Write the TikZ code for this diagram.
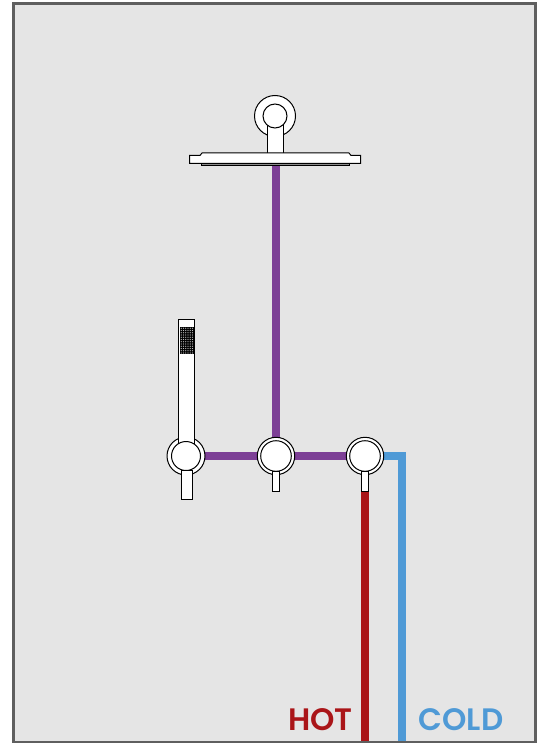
\documentclass[tikz,border=0pt]{standalone}
\usepackage{fontspec}
\setmainfont{Poppins}[BoldFont={Poppins SemiBold}]
\definecolor{wallgrey}{HTML}{E5E5E5}
\definecolor{framegrey}{HTML}{5F5F5F}
\definecolor{mixpurple}{HTML}{7D3F96}
\definecolor{hotred}{HTML}{AA1518}
\definecolor{coldblue}{HTML}{4F9AD6}
\tikzset{
  pipe/.style={line width=7.6pt},
  fitting/.style={draw=black, fill=white, line width=1pt},
  label/.style={font=\bfseries\fontsize{31}{31}\selectfont, inner sep=0pt, anchor=base},
}
\begin{document}
\begin{tikzpicture}[x=1pt, y=-1pt]
  \useasboundingbox (0,0) rectangle (544,743);
  \coordinate (Head) at (276,160);
  \coordinate (V1) at (186,456);
  \coordinate (V2) at (276,456);
  \coordinate (V3) at (365,456);
  \coordinate (Elbow) at (402,456);
  \coordinate (HotEnd) at (365,741);
  \coordinate (ColdEnd) at (402,741);

  \fill[wallgrey] (13,3) rectangle (535,742);

  % pipes
  \draw[pipe, mixpurple] (Head)--(V2);
  \draw[pipe, mixpurple] (V1)--(V3);
  \draw[pipe, hotred] (V3)--(HotEnd);
  \draw[pipe, coldblue, line join=miter] (V3)--(Elbow)--(ColdEnd);

  % overhead shower
  \draw[fitting] (275,116) circle (20.5);
  \fill[white] (267,120) rectangle (283,154);
  \draw[fitting] (267,125)--(267,154);
  \draw[fitting] (283,125)--(283,154);
  \draw[fitting] (275,116) circle (12);
  \draw[line width=1pt, fill=black!45] (201,162) rectangle (349,166);
  \draw[fitting] (189.5,155.5)--(200,155.5)--(202,153)--(349,153)--(351,155.5)--(360.5,155.5)
    --(360.5,163.5)--(189.5,163.5)--cycle;

  % hand shower
  \draw[fitting] (V1) circle (19);
  \draw[fitting] (178.5,319)--(194.5,319)--(194.5,445)--(178.5,445)--cycle;
  \fill[black] (180,327) rectangle (193.5,353.5);
  \foreach \x in {0,...,5}
    \foreach \y in {0,...,11}
      \fill[white!75!black] (181.2+2.25*\x,328.2+2.25*\y) circle (0.6);
  \draw[fitting] (V1) circle (14.5);
  \draw[fitting] (181,470.5) rectangle (192,499);

  % valves
  \foreach \v/\xv in {V2/276,V3/365} {
    \draw[fitting] (\v) circle (18.7);
    \draw[fitting] (\v) circle (15.3);
    \draw[fitting] (\xv-3.6,471.5)rectangle (\xv+3.6,491.5);
  }

  \node[label, text=hotred] (Hot) at (320.5,730) {HOT};
  \node[label, text=coldblue] (Cold) at (461,730) {COLD};

  \draw[framegrey, line width=3pt] (13.5,3.5) rectangle (535,742.2);
\end{tikzpicture}
\end{document}
